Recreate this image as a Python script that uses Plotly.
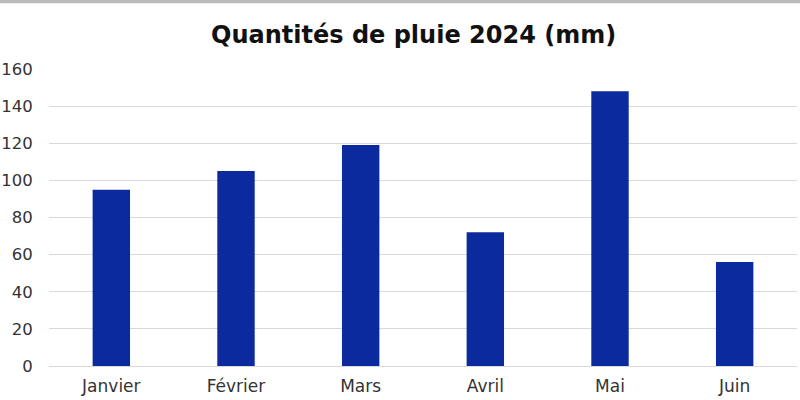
import plotly.graph_objects as go

months = ["Janvier", "Février", "Mars", "Avril", "Mai", "Juin"]
rain_mm = [95, 105, 119, 72, 148, 56]
y_ticks = [0, 20, 40, 60, 80, 100, 120, 140, 160]

fig = go.Figure(go.Bar(
    x=months, y=rain_mm,
    marker=dict(color="#0a2a9e", line=dict(width=0)),
))

fig.update_layout(
    width=800, height=400,
    margin=dict(l=49, r=3, t=69, b=34, autoexpand=False),
    paper_bgcolor="white", plot_bgcolor="white",
    bargap=0.7,
    showlegend=False,
    title=dict(text="<b>Quantités de pluie 2024 (mm)</b>", x=0.517, xanchor="center",
               y=0.913, yanchor="middle",
               font=dict(family="DejaVu Sans", size=24, color="#111111")),
    font=dict(family="DejaVu Sans", size=16.5, color="#333333"),
    shapes=[dict(type="line", xref="paper", yref="paper", x0=-0.1, x1=1.1,
                 y0=1.228, y1=1.228, line=dict(color="#bbbbbb", width=4))],
)
fig.update_xaxes(showgrid=False, showline=False, ticks="outside", ticklen=5,
                 tickcolor="rgba(0,0,0,0)", automargin=False,
                 tickfont=dict(size=17, color="#333333"))
fig.update_yaxes(range=[0, 160], tickvals=y_ticks, showgrid=True, gridcolor="#d9d9d9", gridwidth=1,
                 zeroline=True, zerolinecolor="#d9d9d9", zerolinewidth=1, showline=False,
                 ticks="outside", ticklen=12, tickcolor="rgba(0,0,0,0)", automargin=False,
                 tickfont=dict(size=16.5, color="#333333"))

fig.write_html("out.html", config={"displayModeBar": False},
               post_script="document.body.style.margin='0';")
